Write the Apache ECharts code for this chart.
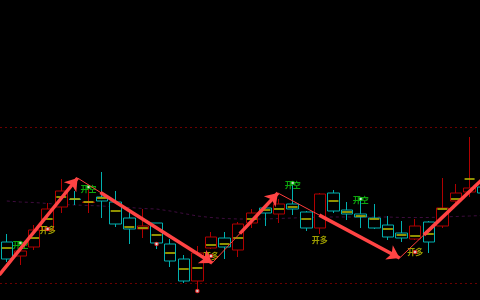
<!DOCTYPE html>
<html><head><meta charset="utf-8">
<script src="https://cdn.jsdelivr.net/npm/echarts/dist/echarts.min.js"></script>
<style>html,body{margin:0;padding:0;background:#000;overflow:hidden;width:480px;height:300px}#c{width:500px;height:300px}</style>
</head><body><div id="c"></div><script>
// ---- data ----
const categories = ['1','2','3','4','5','6','7','8','9','10','11','12','13','14','15','16','17','18','19','20','21','22','23','24','25','26','27','28','29','30','31','32','33','34','35','36'];
const opens  = [21.16,20.88,21.06,21.40,21.86,22.02,21.95,22.06,21.96,21.64,21.42,21.54,21.12,20.82,20.38,21.04,21.24,21.00,21.54,21.84,21.72,21.92,21.76,21.44,22.14,21.80,21.72,21.64,21.50,21.34,21.22,21.56,21.48,21.98,22.16,22.26];
const closes = [20.82,20.98,21.40,21.82,22.18,22.01,21.96,21.98,21.52,21.42,21.48,21.14,20.78,20.38,20.94,21.26,21.06,21.52,21.74,21.74,21.92,21.82,21.44,22.12,21.78,21.72,21.66,21.44,21.26,21.24,21.48,21.16,21.84,22.14,22.24,22.14];
const lows   = [20.76,20.70,21.00,21.38,21.74,21.90,21.74,21.64,21.46,21.12,21.24,21.02,20.66,20.34,20.22,21.02,20.82,20.86,21.44,21.48,21.54,21.70,21.38,21.32,21.74,21.60,21.44,21.42,21.20,21.16,21.20,20.94,21.44,21.92,22.06,22.10];
const highs  = [21.32,21.00,21.50,21.94,22.42,22.18,22.26,22.56,22.18,21.76,21.82,21.54,21.22,20.90,21.08,21.36,21.36,21.56,21.82,21.86,22.02,22.30,21.78,22.14,22.20,21.96,22.04,21.92,21.68,21.58,21.62,21.58,22.44,22.32,23.26,22.30];
const mids   = [21.04,null,21.24,21.62,22.06,22.02,21.96,22.04,21.78,21.46,21.44,21.30,20.94,20.62,20.64,21.10,21.12,21.24,21.62,21.80,21.82,21.86,21.62,null,21.98,21.76,21.68,21.62,21.42,21.30,21.28,21.32,21.82,22.02,22.42,null];
const ma     = [21.98,21.96,21.95,21.93,21.91,21.90,21.89,21.88,21.86,21.85,21.83,21.82,21.78,21.73,21.68,21.65,21.63,21.62,21.62,21.62,21.63,21.64,21.65,21.66,21.66,21.66,21.66,21.66,21.66,21.65,21.65,21.65,21.66,21.67,21.68,21.69];
const bandLevels = [23.45, 20.33];
// signals
const shortIdx = [1, 6, 21, 26];            // 开空
const shortTextY = [21.10, 22.23, 22.31, 22.00];
const shortDotY  = [21.14, 22.26, 22.34, 22.02];
const longIdx = [3, 15, 23, 30];             // 开多
const longTextY = [21.40, 20.88, 21.20, 20.96];
const redDotIdx = [3, 11, 14, 15, 30];
const redDotY   = [21.42, 21.12, 20.18, 20.88, 20.96];
// zigzag turning points (bar index, price)
const zigX = [-0.55, 5.2, 15.09, 19.92, 28.86, 36.0];
const zigY = [20.50, 22.44, 20.74, 22.14, 20.84, 22.69];
const thickFrom = [0, 0.17, 0.42, 0.34, 0.25];

// ---- build ----
const kData = opens.map((o,i)=>[o, closes[i], lows[i], highs[i]]);
const midData = mids.map((m,i)=> m==null ? [i,'-'] : [i,m]);
const thin = [], thick = [];
for (let i=0;i<zigX.length-1;i++){
  const a=[zigX[i],zigY[i]], b=[zigX[i+1],zigY[i+1]];
  thin.push({coords:[a,b]});
  const f=thickFrom[i];
  thick.push({coords:[[a[0]+(b[0]-a[0])*f, a[1]+(b[1]-a[1])*f], b]});
}
const font = '"Noto Sans CJK SC", sans-serif';
const chart = echarts.init(document.getElementById('c'), null, {renderer:'canvas'});
chart.setOption({
  animation:false,
  backgroundColor:'#000',
  grid:{left:-1, top:0, width:491, height:300},
  xAxis:[
    {type:'category', data:categories, show:false, boundaryGap:true},
    {type:'value', min:-0.5, max:35.5, show:false}
  ],
  yAxis:{type:'value', min:20, max:26, show:false, splitLine:{show:false}},
  series:[
    {type:'line', data:ma, symbol:'none', z:1, silent:true,
     lineStyle:{color:'#3e0c3e', width:1, type:[3,3]},
     markLine:{silent:true, symbol:'none', label:{show:false},
       lineStyle:{color:'#6a0000', width:1, type:[2,3]},
       data: bandLevels.map(v=>({yAxis:v}))}},
    {type:'candlestick', data:kData, barWidth:12, z:2,
     itemStyle:{color:'#000', color0:'#000', borderColor:'#b00000', borderColor0:'#00b0b0', borderWidth:1}},
    {type:'scatter', data:midData, symbol:'rect', symbolSize:[10,2], z:3,
     itemStyle:{color:'#b4b400'}},
    {type:'scatter', z:4, symbolSize:1, itemStyle:{color:'rgba(0,0,0,0)'},
     data: shortIdx.map((x,i)=>[x, shortTextY[i]]),
     label:{show:true, position:'inside', formatter:'开空', color:'#10d010', fontSize:8, fontWeight:'bold', fontFamily:font}},
    {type:'scatter', z:4, symbolSize:1, itemStyle:{color:'rgba(0,0,0,0)'},
     data: longIdx.map((x,i)=>[x, longTextY[i]]),
     label:{show:true, position:'inside', formatter:'开多', color:'#c8c800', fontSize:8, fontWeight:'bold', fontFamily:font}},
    {type:'scatter', z:5, symbol:'circle', symbolSize:3.5,
     data: shortIdx.map((x,i)=>[x, shortDotY[i]]),
     itemStyle:{color:'#ffffff', borderColor:'#00c000', borderWidth:1.2}},
    {type:'scatter', z:5, symbol:'circle', symbolSize:3.5,
     data: redDotIdx.map((x,i)=>[x, redDotY[i]]),
     itemStyle:{color:'#ffffff', borderColor:'#ff2020', borderWidth:1.2}},
    {type:'lines', coordinateSystem:'cartesian2d', xAxisIndex:1, yAxisIndex:0, z:10,
     symbol:'none', data:thin, lineStyle:{color:'#ff3c3c', width:1, opacity:1}},
    {type:'lines', coordinateSystem:'cartesian2d', xAxisIndex:1, yAxisIndex:0, z:11,
     symbol:['none','arrow'], symbolSize:12, data:thick,
     lineStyle:{color:'#ff4444', width:3.5, opacity:1}}
  ]
});
</script></body></html>
